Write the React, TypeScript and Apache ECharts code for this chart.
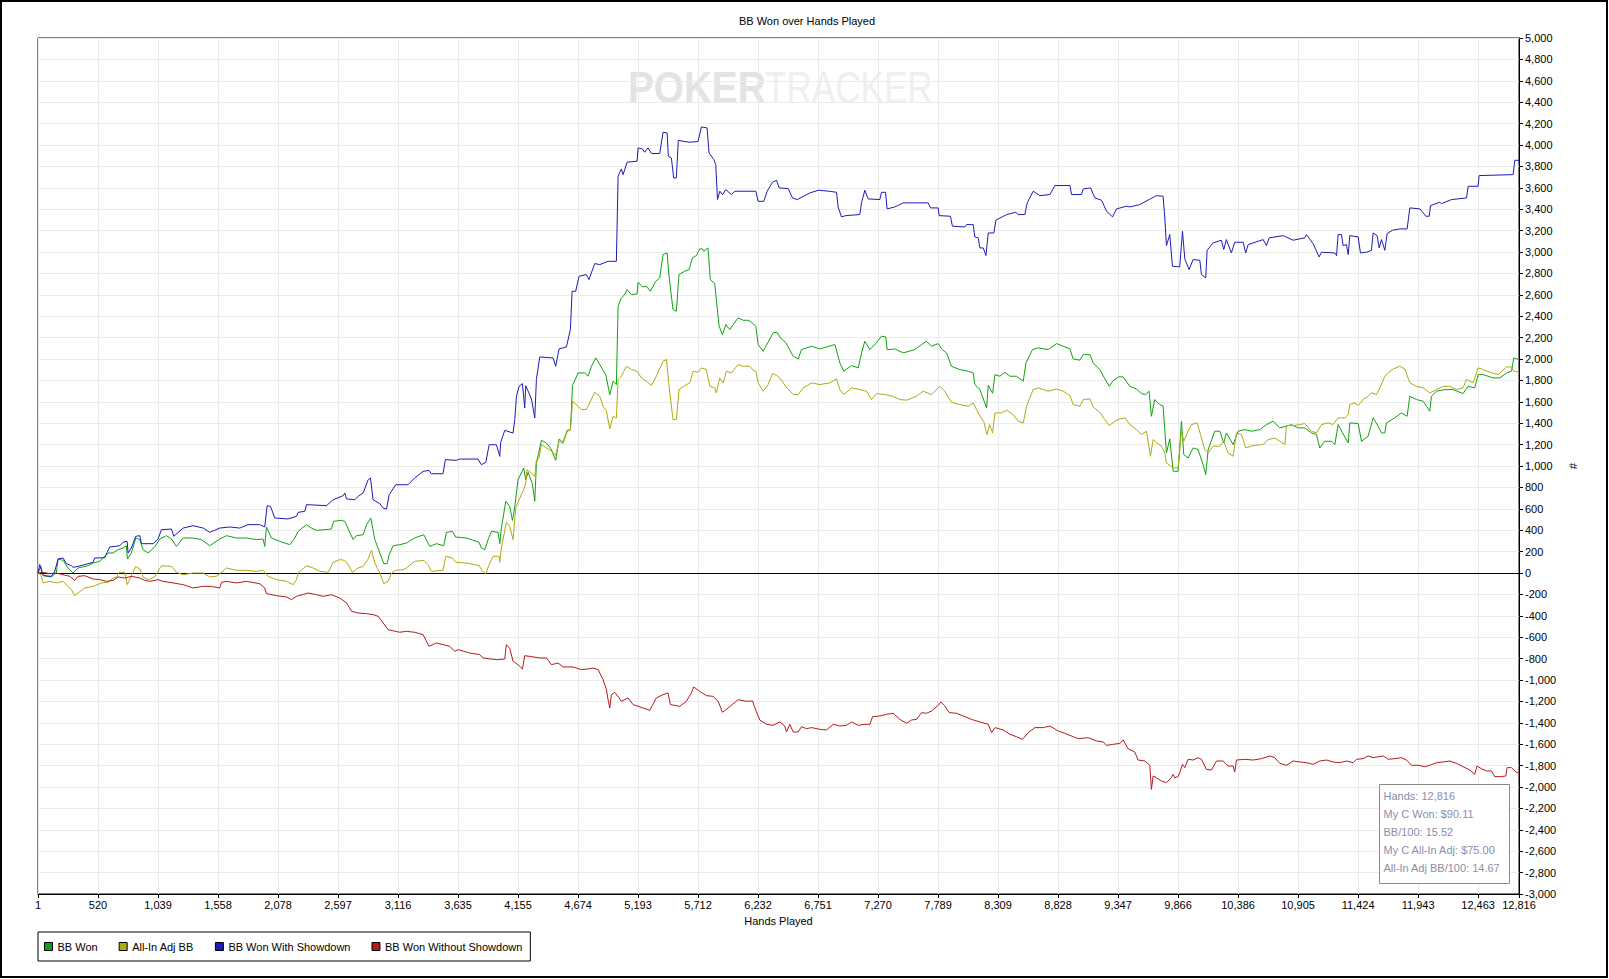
import React, { useEffect, useRef } from 'react';
import * as echarts from 'echarts';

const handTicks = [1, 520, 1039, 1558, 2078, 2597, 3116, 3635, 4155, 4674, 5193, 5712, 6232, 6751, 7270, 7789, 8309, 8828, 9347, 9866, 10386, 10905, 11424, 11943, 12463, 12816];

const seriesNames = ['BB Won', 'All-In Adj BB', 'BB Won With Showdown', 'BB Won Without Showdown'];
const seriesColors = ['#12a012', '#b0aa12', '#1c1cb8', '#b41c1c'];

const statLines = ['Hands: 12,816', 'My C Won: $90.11', 'BB/100: 15.52', 'My C All-In Adj: $75.00', 'All-In Adj BB/100: 14.67'];

const bbWon = [
  [1,0],[25,62],[44,-25],[116,-37],[159,6],[174,131],[217,118],[260,47],[304,0],[347,47],[433,68],[477,93],[534,109],[607,187],[650,187],[693,218],[736,234],[765,255],[774,131],[808,187],[846,327],[881,312],[909,218],[953,187],[1010,243],[1054,318],[1111,349],[1155,318],[1198,249],[1256,327],[1342,327],[1414,312],[1486,255],[1573,318],[1631,349],[1717,327],[1804,327],[1890,312],[1948,318],[1962,249],[1977,430],[2020,327],[2092,296],[2179,265],[2222,327],[2251,389],[2323,452],[2366,420],[2410,399],[2482,405],[2539,411],[2559,483],[2626,492],[2655,483],[2698,380],[2727,312],[2756,349],[2814,358],[2843,452],[2880,514],[2915,312],[2958,187],[2992,87],[3021,87],[3039,171],[3073,255],[3131,265],
  [3188,280],[3260,327],[3338,358],[3390,249],[3448,274],[3511,255],[3534,380],[3586,389],[3615,336],[3707,327],[3817,287],[3837,234],[3866,218],[3895,312],[3924,389],[3981,380],[3996,274],[4010,421],[4048,670],[4082,623],[4106,492],[4126,617],[4154,872],[4203,981],[4221,872],[4241,941],[4278,835],[4299,670],[4313,1022],[4356,1240],[4400,1215],[4443,1153],[4480,1053],[4509,1252],[4544,1221],[4579,1333],[4607,1339],[4616,1527],
  [4625,1752],[4674,1870],[4731,1870],[4760,1839],[4789,1932],[4827,2010],[4861,1948],[4913,1854],[4948,1667],[4977,1792],[5005,1761],[5020,2493],[5048,2571],[5077,2602],[5098,2649],[5135,2602],[5184,2608],[5193,2717],[5230,2674],[5265,2680],[5299,2633],[5346,2727],[5380,2758],[5409,2976],[5444,2991],[5461,2773],[5495,2462],[5524,2446],[5547,2789],[5596,2820],[5634,2836],[5663,2945],[5697,2966],[5726,3029],[5749,3029],[5761,3007],[5798,3038],[5818,2742],[5856,2705],[5894,2306],[5923,2228],[5952,2322],[5986,2275],[6058,2384],[6102,2362],[6145,2362],[6174,2343],[6212,2306],
  [6232,2135],[6275,2072],[6318,2157],[6361,2244],[6394,2250],[6431,2188],[6469,2157],[6535,2026],[6578,2001],[6607,2088],[6694,2119],[6766,2094],[6896,2135],[6939,1963],[6974,1886],[7040,1939],[7098,1917],[7127,2057],[7155,2166],[7199,2088],[7250,2144],[7299,2213],[7337,2206],[7348,2088],[7415,2094],[7487,2057],[7588,2088],[7646,2135],[7689,2166],[7732,2119],[7790,2144],[7819,2094],[7862,2057],[7905,1932],[7977,1901],[8049,1886],[8093,1870],[8107,1761],[8151,1714],[8180,1627],[8209,1543],[8223,1755],[8261,1680],[8281,1854],[8324,1839],[8367,1876],[8411,1839],[8468,1839],[8526,1792],[8549,1963],[8606,2088],[8655,2104],[8742,2088],[8814,2144],[8872,2119],[8930,2094],[8958,2001],[9016,1989],[9045,2041],[9103,2041],[9131,1963],[9189,1901],[9232,1814],[9270,1745],[9299,1792],[9351,1833],
  [9390,1833],[9448,1745],[9505,1720],[9549,1677],[9586,1668],[9615,1699],[9635,1465],[9664,1621],[9707,1574],[9736,1559],[9765,1122],[9794,1253],[9823,951],[9866,951],[9895,1418],[9915,1107],[9953,1075],[9996,1169],[10039,1153],[10082,1013],[10105,920],[10126,1153],[10183,1325],[10227,1325],[10261,1216],[10284,1309],[10342,1200],[10385,1325],[10443,1340],[10501,1325],[10573,1340],[10631,1387],[10688,1418],[10746,1356],[10804,1372],[10847,1387],[10905,1356],[10962,1356],[11020,1309],[11063,1294],[11092,1169],[11135,1231],[11193,1231],[11222,1200],[11251,1387],[11289,1309],[11338,1216],[11352,1403],[11424,1397],[11453,1231],[11510,1278],[11554,1450],[11597,1372],[11626,1309],[11655,1309],[11669,1403],[11741,1450],[11799,1496],[11848,1465],[11871,1652],[11929,1621],[11987,1605],[12015,1559],[12044,1512],[12058,1652],[12102,1699],[12174,1714],[12246,1714],[12332,1677],[12376,1745],[12433,1730],[12462,1854],[12506,1854],[12592,1823],[12650,1823],[12708,1870],[12751,1886],[12771,2010],[12816,1995]
];

const allInAdjBB = [
  [1,0],[25,-16],[44,-93],[102,-78],[159,-93],[217,-78],[260,-125],[289,-156],[318,-212],[347,-187],[404,-140],[477,-125],[549,-93],[607,-87],[650,-47],[683,-37],[701,6],[751,6],[771,-109],[808,-31],[846,62],[881,37],[909,-37],[953,-62],[1010,-37],[1068,68],[1155,62],[1198,6],[1256,-16],[1342,0],[1429,0],[1486,-37],[1544,-31],[1631,47],[1717,25],[1804,25],[1890,16],[1948,25],[1991,-31],[2063,-62],[2150,-78],[2208,-109],[2237,-62],[2251,0],[2323,68],[2381,47],[2439,16],[2511,6],[2554,100],[2612,125],[2655,118],[2684,78],[2721,6],[2770,47],[2814,62],[2857,131],[2886,212],[2915,93],[2958,0],[2992,-100],[3030,-78],[3059,0],[3096,25],[3160,31],
  [3188,47],[3260,109],[3338,118],[3375,78],[3404,16],[3505,25],[3528,156],[3586,140],[3615,100],[3707,93],[3817,69],[3846,16],[3875,-6],[3904,78],[3938,156],[3990,156],[3996,100],[4010,234],[4053,473],[4082,436],[4111,312],[4134,607],[4163,685],[4203,779],[4221,841],[4232,966],[4261,941],[4299,903],[4313,1059],[4336,1075],[4356,1200],[4443,1140],[4480,1100],[4509,1230],[4544,1210],[4579,1320],[4607,1340],[4616,1450],
  [4625,1605],[4674,1559],[4702,1527],[4745,1527],[4774,1590],[4818,1689],[4861,1652],[4890,1559],[4919,1512],[4948,1347],[4977,1465],[5005,1449],[5020,1808],[5048,1839],[5092,1932],[5135,1901],[5184,1886],[5222,1823],[5265,1792],[5308,1752],[5351,1839],[5409,1979],[5438,1995],[5461,1745],[5495,1434],[5524,1434],[5547,1714],[5596,1752],[5640,1777],[5669,1886],[5712,1876],[5741,1917],[5784,1901],[5813,1745],[5856,1730],[5870,1683],[5900,1823],[5929,1777],[5957,1886],[6001,1870],[6058,1948],[6102,1932],[6160,1932],[6189,1895],[6212,1886],
  [6232,1777],[6275,1699],[6318,1761],[6356,1864],[6394,1845],[6431,1808],[6469,1745],[6535,1668],[6578,1668],[6621,1730],[6694,1777],[6766,1761],[6852,1777],[6910,1814],[6939,1714],[6974,1668],[7040,1730],[7112,1714],[7170,1699],[7213,1621],[7256,1677],[7328,1668],[7400,1652],[7458,1621],[7516,1615],[7602,1652],[7660,1699],[7732,1668],[7804,1745],[7847,1699],[7905,1596],[7977,1574],[8049,1559],[8093,1590],[8122,1527],[8151,1465],[8184,1418],[8212,1293],[8235,1387],[8261,1309],[8281,1496],[8338,1496],[8382,1521],[8439,1481],[8482,1418],[8526,1403],[8555,1559],[8612,1714],[8655,1730],[8742,1699],[8814,1720],[8872,1699],[8930,1659],[8958,1574],[9016,1559],[9045,1621],[9103,1627],[9131,1552],[9189,1502],[9232,1434],[9270,1378],[9319,1418],[9362,1440],[9408,1449],
  [9448,1387],[9505,1340],[9549,1294],[9592,1325],[9627,1091],[9650,1247],[9678,1216],[9722,1185],[9751,1122],[9765,1029],[9823,982],[9866,982],[9895,1325],[9915,1231],[9953,1325],[9982,1387],[10031,1403],[10060,1294],[10097,1153],[10126,1122],[10169,1185],[10227,1185],[10261,1231],[10299,1122],[10342,1091],[10371,1309],[10414,1294],[10451,1169],[10515,1191],[10602,1200],[10645,1247],[10703,1262],[10746,1231],[10790,1200],[10804,1378],[10861,1378],[10919,1387],[10962,1397],[11020,1325],[11063,1309],[11107,1387],[11164,1403],[11207,1387],[11251,1450],[11309,1450],[11338,1481],[11352,1574],[11395,1590],[11424,1565],[11467,1621],[11510,1652],[11539,1683],[11583,1668],[11612,1730],[11655,1839],[11684,1870],[11727,1907],[11785,1932],[11828,1907],[11871,1777],[11929,1745],[11987,1730],[12044,1683],[12102,1714],[12160,1745],[12217,1745],[12275,1714],[12332,1730],[12361,1808],[12419,1777],[12462,1917],[12506,1901],[12563,1876],[12635,1854],[12708,1926],[12751,1926],[12771,1886],[12816,1876]
];

const bbWonWithShowdown = [
  [1,0],[15,80],[40,-15],[58,-25],[116,-31],[145,16],[174,131],[217,140],[246,87],[289,68],[304,53],[347,62],[477,100],[490,140],[578,143],[598,193],[621,243],[708,255],[736,287],[771,296],[780,187],[808,234],[846,343],[881,349],[895,274],[996,274],[1039,318],[1068,405],[1155,411],[1175,343],[1256,420],[1342,442],[1429,420],[1486,380],[1573,420],[1660,430],[1746,420],[1818,452],[1919,452],[1962,430],[1983,629],[2012,623],[2049,514],[2164,505],[2237,530],[2251,567],[2309,576],[2323,639],[2496,629],[2554,685],[2641,723],[2655,748],[2670,692],[2742,685],[2770,716],[2814,748],[2857,872],[2877,888],[2900,685],[2958,648],[2987,607],[3016,598],[3039,732],[3096,825],
  [3202,825],[3260,888],[3332,950],[3384,959],[3404,928],[3505,928],[3525,1059],[3621,1053],[3649,1065],[3808,1065],[3837,1012],[3875,1034],[3904,1199],[3967,1199],[3996,1090],[4004,1221],[4039,1333],[4111,1308],
  [4126,1434],[4140,1652],[4163,1745],[4192,1770],[4212,1543],[4221,1751],[4270,1627],[4299,1449],[4313,1808],[4342,2019],[4457,2010],[4480,1932],[4509,2094],[4573,2113],[4607,2275],[4622,2633],[4653,2633],[4682,2773],[4745,2789],[4768,2742],[4818,2892],[4861,2882],[4933,2913],[5005,2913],[5020,3708],[5048,3776],[5063,3723],[5098,3839],[5184,3848],[5193,3973],[5230,3963],[5250,3932],[5279,3973],[5308,3920],[5380,3920],[5409,4119],[5444,4113],[5455,3895],[5481,3879],[5501,3692],[5524,3692],[5541,4044],[5582,4035],[5640,4026],[5712,4032],[5741,4169],[5790,4160],[5807,3926],[5848,3864],[5865,3817],[5880,3490],[5900,3568],[5923,3536],[5952,3583],[6001,3536],[6030,3568],[6212,3568],
  [6232,3474],[6281,3474],[6310,3568],[6356,3652],[6391,3670],[6414,3599],[6492,3593],[6529,3505],[6570,3490],[6680,3552],[6752,3577],[6847,3568],[6910,3558],[6924,3421],[6953,3328],[6991,3340],[7112,3350],[7126,3459],[7155,3577],[7184,3496],[7285,3490],[7299,3558],[7334,3558],[7348,3403],[7415,3421],[7487,3459],[7703,3459],[7723,3412],[7790,3412],[7798,3340],[7896,3334],[7913,3241],[8020,3234],[8035,3256],[8093,3256],[8107,3141],[8136,3132],[8151,3038],[8180,3038],[8203,2966],[8223,3178],[8272,3178],[8289,3297],[8382,3350],[8462,3371],[8482,3350],[8540,3350],[8560,3459],[8612,3568],[8670,3527],[8757,3537],[8800,3621],[8930,3621],[8944,3537],[9030,3537],[9045,3589],[9108,3599],[9146,3505],[9203,3484],[9247,3381],[9299,3328],[9333,3403],[9420,3428],
  [9448,3421],[9534,3443],[9615,3490],[9679,3527],[9736,3521],[9751,3318],[9765,3060],[9794,3163],[9817,2867],[9880,2861],[9904,3194],[9924,2935],[9961,2836],[9996,2929],[10054,2923],[10068,2789],[10105,2758],[10117,3016],[10169,3085],[10241,3110],[10261,3023],[10284,3116],[10327,2991],[10356,3091],[10429,3091],[10451,2991],[10472,3069],[10602,3116],[10631,3060],[10654,3132],[10775,3153],[10861,3110],[10962,3132],[10977,3163],[11034,3079],[11086,2954],[11107,2998],[11222,2991],[11237,2966],[11251,3163],[11280,3163],[11294,3060],[11323,3069],[11338,2976],[11352,3153],[11424,3141],[11444,2991],[11496,2998],[11539,3016],[11554,3178],[11588,3153],[11606,3038],[11626,3116],[11655,3016],[11675,3172],[11721,3203],[11785,3216],[11848,3216],[11871,3412],[11958,3403],[12010,3334],[12039,3334],[12050,3434],[12131,3465],[12145,3452],[12232,3490],[12362,3505],[12376,3614],[12462,3614],[12471,3714],[12765,3723],[12780,3857],[12816,3857]
];

const bbWonWithoutShowdown = [
  [1,0],[44,6],[102,-6],[159,0],[217,-16],[275,-31],[318,-69],[347,-31],[404,-25],[477,-56],[534,-62],[592,-78],[650,-69],[693,-37],[751,-47],[808,-31],[881,-47],[924,-69],[967,-78],[1039,-62],[1082,-78],[1169,-93],[1256,-109],[1342,-140],[1429,-125],[1501,-125],[1573,-140],[1588,-87],[1631,-78],[1717,-93],[1804,-78],[1919,-100],[1962,-140],[1977,-193],[2063,-212],[2150,-224],[2193,-249],[2237,-218],[2338,-187],[2410,-203],[2467,-218],[2539,-203],[2612,-234],[2670,-280],[2713,-358],[2770,-374],[2843,-380],[2900,-389],[2944,-405],[3030,-530],
  [3130,-554],[3188,-545],[3260,-554],[3332,-576],[3384,-685],[3448,-654],[3563,-685],[3606,-732],[3635,-716],[3736,-748],[3822,-763],[3851,-794],[3967,-810],[4039,-804],[4053,-670],[4082,-701],[4111,-825],[4154,-857],[4192,-897],[4212,-773],[4255,-779],[4342,-794],[4400,-794],[4443,-857],[4500,-841],[4544,-878],[4630,-878],[4702,-903],[4760,-897],[4803,-888],[4847,-903],[4890,-997],[4919,-1090],[4933,-1184],[4948,-1262],[4962,-1137],[4991,-1115],[5029,-1168],[5048,-1199],[5106,-1168],[5150,-1230],[5236,-1262],[5294,-1283],[5351,-1168],[5409,-1137],[5452,-1121],[5473,-1230],[5553,-1246],[5611,-1199],[5654,-1121],[5674,-1065],[5726,-1106],[5784,-1146],[5842,-1153],[5886,-1199],[5923,-1302],[5972,-1262],[6058,-1184],[6130,-1199],
  [6183,-1196],[6203,-1259],[6246,-1374],[6304,-1414],[6361,-1424],[6419,-1392],[6462,-1430],[6477,-1486],[6506,-1414],[6535,-1486],[6578,-1486],[6607,-1436],[6650,-1455],[6694,-1445],[6766,-1461],[6823,-1467],[6881,-1414],[6939,-1430],[6996,-1424],[7040,-1392],[7098,-1424],[7155,-1414],[7199,-1414],[7222,-1343],[7285,-1336],[7343,-1321],[7400,-1311],[7458,-1368],[7516,-1405],[7559,-1374],[7602,-1368],[7646,-1305],[7689,-1311],[7732,-1290],[7790,-1237],[7813,-1206],[7848,-1243],[7886,-1305],[7948,-1311],[8006,-1336],[8078,-1368],[8151,-1392],[8223,-1414],[8252,-1492],[8281,-1445],[8353,-1467],[8411,-1508],[8468,-1530],[8520,-1554],[8569,-1492],[8627,-1445],[8699,-1445],[8757,-1430],[8829,-1477],[8886,-1498],[8958,-1530],[9002,-1548],[9088,-1539],[9160,-1570],[9218,-1579],[9247,-1611],[9304,-1601],[9362,-1592],[9391,-1561],
  [9433,-1642],[9491,-1673],[9520,-1748],[9578,-1757],[9621,-1797],[9635,-2022],[9650,-1897],[9678,-1913],[9722,-1944],[9765,-1959],[9808,-1913],[9823,-1882],[9837,-1913],[9866,-1903],[9880,-1866],[9904,-1788],[9924,-1819],[9953,-1741],[9996,-1748],[10039,-1726],[10068,-1741],[10111,-1835],[10155,-1841],[10198,-1757],[10256,-1757],[10299,-1804],[10342,-1804],[10356,-1860],[10371,-1748],[10443,-1741],[10515,-1748],[10587,-1735],[10660,-1710],[10703,-1726],[10746,-1779],[10804,-1797],[10861,-1757],[10919,-1766],[10977,-1773],[11034,-1788],[11092,-1757],[11150,-1748],[11207,-1766],[11265,-1773],[11323,-1757],[11381,-1773],[11410,-1741],[11467,-1735],[11510,-1710],[11554,-1726],[11597,-1717],[11641,-1710],[11684,-1741],[11741,-1735],[11799,-1726],[11842,-1748],[11886,-1797],[11943,-1797],[12001,-1810],[12044,-1797],[12102,-1773],[12160,-1766],[12217,-1757],[12275,-1779],[12332,-1810],[12390,-1841],[12433,-1882],[12453,-1804],[12491,-1829],[12534,-1850],[12577,-1850],[12606,-1903],[12664,-1903],[12702,-1897],[12713,-1819],[12751,-1819],[12789,-1860],[12816,-1866]
];

const seriesData = [bbWon, allInAdjBB, bbWonWithShowdown, bbWonWithoutShowdown];

const FONT = '"Liberation Sans", Arial, sans-serif';
const fmt = (v: number) => Math.round(v).toLocaleString('en-US');

function buildOption(): any {
  const series: any[] = seriesNames.map((name, i) => ({
    name,
    type: 'line',
    data: seriesData[i],
    showSymbol: false,
    symbol: 'none',
    lineStyle: { color: seriesColors[i], width: 1 },
    itemStyle: { color: seriesColors[i] },
    emphasis: { disabled: true },
    silent: true,
    z: 3,
  }));
  series[0].markLine = {
    silent: true,
    symbol: ['none', 'none'],
    label: { show: false },
    lineStyle: { color: '#000', width: 1, type: 'solid' },
    data: [{ yAxis: 0 }],
    z: 2,
  };

  const statsTexts = statLines.map((t, i) => ({
    type: 'text',
    x: 1383.5,
    y: 796 + i * 18,
    z: 21,
    silent: true,
    style: {
      text: t,
      fill: '#8c8ea8',
      font: '11px ' + FONT,
      textAlign: 'left',
      align: 'left',
      textVerticalAlign: 'middle',
      verticalAlign: 'middle',
    },
  }));

  return {
    animation: false,
    backgroundColor: '#fff',
    textStyle: { fontFamily: FONT },
    title: {
      text: 'BB Won over Hands Played',
      left: 807,
      textAlign: 'center',
      top: 15,
      padding: 0,
      textStyle: { fontSize: 11, fontWeight: 'normal', color: '#000', fontFamily: FONT },
    },
    legend: {
      data: seriesNames.map((n, i) => ({ name: n, itemStyle: { color: seriesColors[i], borderColor: '#000', borderWidth: 1 } })),
      icon: 'rect',
      itemWidth: 8,
      itemHeight: 8,
      itemGap: 21,
      left: 38,
      top: 932,
      padding: [8, 8, 8, 6],
      borderColor: '#000',
      borderWidth: 1,
      selectedMode: false,
      textStyle: { fontSize: 11, color: '#000', fontFamily: FONT, lineHeight: 13 },
    },
    grid: {
      left: 38,
      right: 90,
      top: 38,
      bottom: 85,
      show: true,
      borderColor: '#000',
      borderWidth: 1,
      backgroundColor: 'transparent',
    },
    xAxis: {
      type: 'value',
      min: 0,
      max: handTicks[handTicks.length - 1],
      interval: 519.25,
      name: 'Hands Played',
      nameLocation: 'middle',
      nameGap: 21,
      nameTextStyle: { fontSize: 11, color: '#000', fontFamily: FONT },
      axisLine: { show: true, onZero: false, lineStyle: { color: '#000', width: 1 } },
      axisTick: { show: true, length: 4, lineStyle: { color: '#000' } },
      axisLabel: {
        color: '#000',
        fontSize: 11,
        fontFamily: FONT,
        margin: 5,
        formatter: (v: number, i: number) => fmt(handTicks[i] !== undefined ? handTicks[i] : v),
      },
      splitLine: { show: true, lineStyle: { color: '#ebebeb', width: 1 } },
    },
    yAxis: {
      type: 'value',
      position: 'right',
      min: -3000,
      max: 5000,
      interval: 200,
      name: '#',
      nameLocation: 'middle',
      nameGap: 46,
      nameRotate: -90,
      nameTextStyle: { fontSize: 11, color: '#000', fontFamily: FONT },
      axisLine: { show: true, onZero: false, lineStyle: { color: '#000', width: 1 } },
      axisTick: { show: true, length: 4, lineStyle: { color: '#000' } },
      axisLabel: { color: '#000', fontSize: 11, fontFamily: FONT, margin: 6, formatter: (v: number) => fmt(v) },
      splitLine: { show: true, lineStyle: { color: '#ebebeb', width: 1 } },
    },
    graphic: [
      {
        type: 'text',
        x: 628,
        y: 87.5,
        scaleX: 0.86,
        z: 0,
        silent: true,
        style: {
          text: 'POKER',
          fill: '#e3e3e3',
          font: 'bold 45px ' + FONT,
          textAlign: 'left', align: 'left',
          textVerticalAlign: 'middle', verticalAlign: 'middle',
        },
      },
      {
        type: 'text',
        x: 765,
        y: 87.5,
        scaleX: 0.78,
        z: 0,
        silent: true,
        style: {
          text: 'TRACKER',
          fill: '#efefef',
          font: '45px ' + FONT,
          textAlign: 'left', align: 'left',
          textVerticalAlign: 'middle', verticalAlign: 'middle',
        },
      },
      {
        type: 'rect',
        z: 20,
        silent: true,
        shape: { x: 1379.5, y: 784.5, width: 130, height: 99 },
        style: { fill: '#fff', stroke: '#8a8a8a', lineWidth: 1 },
      },
      ...statsTexts,
      {
        type: 'rect',
        z: 30,
        silent: true,
        shape: { x: 1, y: 1, width: 1606, height: 976 },
        style: { fill: 'none', stroke: '#000', lineWidth: 2 },
      },
    ],
    series,
  };
}

export default function App() {
  const ref = useRef<HTMLDivElement>(null);
  useEffect(() => {
    document.body.style.margin = '0';
    const chart = echarts.init(ref.current as HTMLDivElement, null, { renderer: 'svg' });
    chart.setOption(buildOption());
    return () => chart.dispose();
  }, []);
  return (
    <div
      ref={ref}
      style={{ position: 'fixed', left: 0, top: 0, width: 1609, height: 979, background: '#fff' }}
    />
  );
}
